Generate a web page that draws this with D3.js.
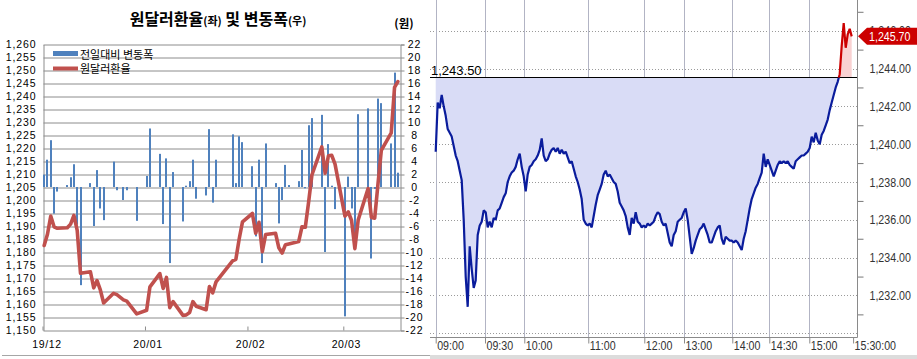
<!DOCTYPE html>
<html>
<head>
<meta charset="utf-8">
<script src="https://cdn.jsdelivr.net/npm/d3@7"></script>
<style>
body { margin: 0; background: #fff; }
svg { display: block; }
</style>
</head>
<body>
<svg id="chart" width="917" height="359"></svg>
<script>
// ---- left panel: daily close and day-on-day change
const days = [
  "2019-12-02","2019-12-03","2019-12-04","2019-12-05","2019-12-06","2019-12-09","2019-12-10","2019-12-11","2019-12-12","2019-12-13",
  "2019-12-16","2019-12-17","2019-12-18","2019-12-19","2019-12-20","2019-12-23","2019-12-24","2019-12-26","2019-12-27","2019-12-30",
  "2020-01-02","2020-01-03","2020-01-06","2020-01-07","2020-01-08","2020-01-09","2020-01-10","2020-01-13","2020-01-14","2020-01-15",
  "2020-01-16","2020-01-17","2020-01-20","2020-01-21","2020-01-22","2020-01-23","2020-01-28","2020-01-29","2020-01-30","2020-01-31",
  "2020-02-03","2020-02-04","2020-02-05","2020-02-06","2020-02-07","2020-02-10","2020-02-11","2020-02-12","2020-02-13","2020-02-14",
  "2020-02-17","2020-02-18","2020-02-19","2020-02-20","2020-02-21","2020-02-24","2020-02-25","2020-02-26","2020-02-27","2020-02-28",
  "2020-03-02","2020-03-03","2020-03-04","2020-03-05","2020-03-06","2020-03-09","2020-03-10","2020-03-11","2020-03-12","2020-03-13",
  "2020-03-16","2020-03-17","2020-03-18"
];
const rate = [
  1182.7, 1187.0, 1194.0, 1189.9, 1189.3, 1189.5, 1190.9, 1194.3, 1188.5, 1172.0,
  1172.6, 1166.4, 1169.2, 1165.6, 1160.6, 1164.3, 1163.8, 1161.8, 1161.3, 1156.4,
  1157.8, 1166.8, 1171.9, 1166.2, 1170.4, 1158.8, 1161.1, 1155.8, 1156.0, 1156.9,
  1161.1, 1159.3, 1158.0, 1166.9, 1164.5, 1168.7, 1176.8, 1177.4, 1185.2, 1191.8,
  1195.0, 1187.4, 1191.6, 1180.3, 1186.9, 1187.4, 1181.8, 1179.8, 1183.0, 1183.3,
  1184.2, 1189.9, 1189.7, 1199.3, 1209.8, 1220.6, 1210.5, 1217.2, 1217.4, 1214.0,
  1194.0, 1195.6, 1192.3, 1181.5, 1192.5, 1204.6, 1193.5, 1193.2, 1206.5, 1219.3,
  1226.0, 1243.5, 1245.7
];
const change = [
  1.9, 4.2, 7.2, -4.1, -0.7, 0.3, 1.5, 3.5, -5.8, -15.1,
  0.6, -6.0, 2.6, -3.3, -5.1, 3.9, -0.5, -2.0, -0.5, -5.2,
  1.7, 9.0, 5.1, -5.7, 4.4, -11.7, 2.3, -5.3, 0.2, 0.9,
  4.2, -1.8, -1.3, 8.9, -2.4, 4.2, 8.1, 0.6, 7.8, 6.9,
  3.2, -7.6, 4.2, -11.7, 6.7, 0.6, -5.6, -2.0, 3.4, 0.3,
  0.9, 5.7, -0.2, 9.5, 10.6, 11.1, -10.0, 6.6, 0.2, -3.4,
  -19.9, 1.6, -3.3, -9.7, 11.2, 12.1, -11.0, -0.3, 13.6, 12.9,
  6.7, 17.6, 2.2
];
const monthTicks = ["2019-12-01", "2020-01-01", "2020-02-01", "2020-03-01"];
const monthLabels = ["19/12", "20/01", "20/02", "20/03"];

// ---- right panel: intraday ticks, one value per tick step
const intraday = [
  1239.6, 1242.2, 1241.9, 1242.6, 1242.0, 1241.5, 1240.8, 1240.6, 1240.4, 1239.9,
  1239.4, 1239.1, 1238.6, 1238.1, 1236.0, 1233.0, 1231.4, 1234.6, 1233.4, 1232.4,
  1232.8, 1235.2, 1235.7, 1235.9, 1236.5, 1236.4, 1235.6, 1235.9, 1235.6, 1236.1,
  1236.0, 1236.5, 1236.6, 1236.9, 1237.2, 1237.4, 1238.0, 1238.3, 1238.5, 1238.6,
  1238.8, 1239.2, 1239.5, 1238.8, 1238.3, 1237.5, 1238.4, 1238.8, 1238.9, 1239.1,
  1239.2, 1239.4, 1239.7, 1240.3, 1239.4, 1239.1, 1239.2, 1239.5, 1239.7, 1239.8,
  1239.6, 1239.8, 1239.5, 1239.7, 1239.5, 1239.6, 1239.3, 1239.0, 1239.1, 1238.7,
  1238.3, 1238.0, 1237.6, 1237.1, 1236.0, 1235.8, 1235.7, 1235.8, 1235.6, 1236.2,
  1236.8, 1237.3, 1237.6, 1237.9, 1238.4, 1238.6, 1238.3, 1238.4, 1238.2, 1238.0,
  1237.9, 1237.5, 1236.9, 1236.7, 1236.5, 1236.2, 1235.6, 1235.2, 1236.1, 1235.8,
  1236.4, 1235.9, 1235.8, 1235.6, 1235.7, 1235.6, 1235.8, 1235.7, 1235.8, 1235.9,
  1236.2, 1236.4, 1236.3, 1235.9, 1235.7, 1235.8, 1235.3, 1234.8, 1234.6, 1235.2,
  1235.4, 1235.9, 1236.0, 1236.1, 1236.4, 1236.6, 1236.0, 1235.1, 1234.2, 1234.5,
  1234.9, 1235.2, 1235.5, 1235.6, 1235.8, 1235.5, 1235.2, 1234.8, 1234.8, 1235.1,
  1235.4, 1235.6, 1235.7, 1235.0, 1234.7, 1235.1, 1235.0, 1234.9, 1234.9, 1234.8,
  1234.9, 1234.8, 1234.6, 1234.4, 1235.0, 1235.4, 1236.0, 1236.6, 1237.1, 1237.4,
  1237.7, 1237.9, 1238.2, 1238.5, 1239.5, 1238.8, 1239.2, 1238.9, 1238.6, 1238.3,
  1238.6, 1238.9, 1239.1, 1239.0, 1239.1, 1239.0, 1239.1, 1238.9, 1238.8, 1238.7,
  1239.1, 1239.2, 1239.3, 1239.4, 1239.4, 1239.5, 1239.6, 1239.8, 1240.4, 1240.1,
  1240.6, 1240.2, 1240.0, 1240.5, 1240.7, 1241.0, 1241.3, 1241.8, 1242.2, 1242.6,
  1243.0, 1243.3, 1243.7, 1245.2, 1246.4, 1245.1, 1245.8, 1246.1, 1245.7
];
const timeLabels = ["09:00", "09:30", "10:00", "11:00", "12:00", "13:00", "14:00", "14:30", "15:00", "15:30:00"];
const timeSteps = [0, 24.65, 44.3, 76.3, 104.3, 124.15, 148.3, 166.8, 186.8, 208.7];
const prevClose = 1243.5;
const lastPrice = 1245.7;

const KR = "'Noto Sans CJK KR', 'Noto Sans', sans-serif";
const NUM = "'Liberation Sans', Arial, sans-serif";
const GRID = "#8c8c8c";
const SQ = 0.82; // horizontal squeeze for the trading-screen digits

const svg = d3.select("#chart");
const parse = d3.timeParse("%Y-%m-%d");

function drawLeft() {
  const P = { x0: 43.5, x1: 400.5, y0: 44.5, y1: 330.5 };
  const x = d3.scaleTime()
    .domain([new Date(2019, 11, 1, 12), new Date(2020, 2, 18, 12)])
    .range([42.5, 399.5]);
  const yL = d3.scaleLinear().domain([1150, 1260]).range([P.y1, P.y0]);
  const yR = d3.scaleLinear().domain([-22, 22]).range([P.y1, P.y0]);
  const g = svg.append("g").attr("font-family", KR);

  // horizontal grid
  g.append("g").attr("transform", `translate(${P.x0},0)`)
    .call(d3.axisLeft(yL).tickValues(d3.range(1150, 1261, 5)).tickSize(-(P.x1 - P.x0)).tickFormat(""))
    .call(s => s.select(".domain").remove())
    .selectAll("line").attr("stroke", GRID);

  // left axis
  g.append("g").attr("transform", `translate(${P.x0},0)`)
    .call(d3.axisLeft(yL).tickValues(d3.range(1150, 1261, 5)).tickSize(0).tickPadding(7).tickFormat(d3.format(",")))
    .attr("font-family", NUM).attr("font-size", 10.5).attr("letter-spacing", 0.9)
    .call(s => s.select(".domain").attr("stroke", GRID))
    .selectAll("text").attr("fill", "#000");

  // right axis
  g.append("g").attr("transform", `translate(${P.x1},0)`)
    .call(d3.axisRight(yR).tickValues(d3.range(-22, 23, 2)).tickSize(4).tickFormat(d => String(d)))
    .attr("font-family", NUM).attr("font-size", 10.5).attr("letter-spacing", 0.9)
    .call(s => s.select(".domain").attr("stroke", GRID))
    .call(s => s.selectAll("line").attr("stroke", GRID))
    .selectAll("text").attr("fill", "#000").attr("text-anchor", "middle").attr("x", 14);

  // bottom axis
  const bx = g.append("g").attr("transform", `translate(0,${P.y1})`)
    .call(d3.axisBottom(x).tickValues(monthTicks.map(d => d3.timeHour.offset(parse(d), 12)))
      .tickSize(-4).tickPadding(10).tickFormat((d, i) => monthLabels[i]))
    .attr("font-family", NUM).attr("font-size", 10.5).attr("letter-spacing", 0.6);
  bx.select(".domain").remove();
  bx.selectAll("line").attr("stroke", GRID);
  bx.selectAll("text").attr("fill", "#000").attr("dx", (d, i) => i === 0 ? 4 : 2.5);

  // bars
  g.append("g").selectAll("rect").data(change).join("rect")
    .attr("x", (d, i) => Math.round(x(parse(days[i]))) - 1)
    .attr("width", 2)
    .attr("y", d => yR(Math.max(0, d)) - 0.5)
    .attr("height", d => Math.abs(yR(d) - yR(0)))
    .attr("fill", "#4f81bd");

  // rate line
  const line = d3.line().x((d, i) => x(parse(days[i]))).y(d => yL(d));
  g.append("path").attr("d", line(rate))
    .attr("fill", "none").attr("stroke", "#c0504d").attr("stroke-width", 3.6)
    .attr("stroke-linejoin", "round").attr("stroke-linecap", "round");

  // legend
  g.append("rect").attr("x", 53).attr("y", 51).attr("width", 25).attr("height", 5).attr("fill", "#4f81bd");
  g.append("line").attr("x1", 53).attr("x2", 78).attr("y1", 68.5).attr("y2", 68.5)
    .attr("stroke", "#c0504d").attr("stroke-width", 4);
  g.append("text").attr("x", 80).attr("y", 58.5).attr("font-size", 11).text("전일대비 변동폭");
  g.append("text").attr("x", 80).attr("y", 72.5).attr("font-size", 11).text("원달러환율");

  // title
  const t = g.append("text").attr("x", 218).attr("y", 25).attr("text-anchor", "middle")
    .attr("font-weight", "bold").attr("font-size", 16);
  t.append("tspan").text("원달러환율");
  t.append("tspan").attr("font-size", 11).text("(좌)");
  t.append("tspan").text(" 및 변동폭");
  t.append("tspan").attr("font-size", 11).text("(우)");
  g.append("text").attr("x", 404).attr("y", 28).attr("text-anchor", "middle")
    .attr("font-weight", "bold").attr("font-size", 11.5).text("(원)");

  g.append("line").attr("x1", 2).attr("x2", 430).attr("y1", 355.5).attr("y2", 355.5).attr("stroke", "#a6a6a6");
}

function drawRight() {
  const P = { x0: 430, x1: 857.5, y0: 0, y1: 337.5 };
  const x = d3.scaleLinear().domain([0, intraday.length - 1]).range([435.7, 851.7]);
  const y = d3.scaleLinear().domain([1230, 1246]).range([333.3, 30.7]);
  const g = svg.append("g");
  const yPrev = Math.round(y(prevClose)) - 0.5;

  // dotted horizontal grid
  g.append("g").selectAll("line").data(d3.range(1230, 1247, 2)).join("line")
    .attr("x1", P.x0).attr("x2", P.x1)
    .attr("y1", d => Math.round(y(d)) + 0.5).attr("y2", d => Math.round(y(d)) + 0.5)
    .attr("stroke", "#9a9a9a").attr("stroke-dasharray", "1,2");

  // vertical time grid
  g.append("g").selectAll("line").data(timeSteps.slice(0, -1)).join("line")
    .attr("x1", d => Math.round(x(d)) + 0.5).attr("x2", d => Math.round(x(d)) + 0.5)
    .attr("y1", P.y0).attr("y2", P.y1)
    .attr("stroke", "#b2b4c4");

  const defs = svg.append("defs");
  defs.append("clipPath").attr("id", "below").append("rect")
    .attr("x", P.x0).attr("y", yPrev).attr("width", P.x1 - P.x0).attr("height", P.y1 - yPrev);
  defs.append("clipPath").attr("id", "above").append("rect")
    .attr("x", P.x0).attr("y", 0).attr("width", P.x1 - P.x0).attr("height", yPrev);

  const area = d3.area().x((d, i) => x(i)).y0(yPrev).y1(d => y(d));
  const line = d3.line().x((d, i) => x(i)).y(d => y(d));

  g.append("path").attr("d", area(intraday)).attr("fill", "#d9dcf6").attr("clip-path", "url(#below)");
  g.append("path").attr("d", area(intraday)).attr("fill", "#f9d2d2").attr("clip-path", "url(#above)");

  // previous close
  g.append("line").attr("x1", P.x0).attr("x2", P.x1).attr("y1", yPrev).attr("y2", yPrev).attr("stroke", "#000");
  g.append("text").attr("x", 431).attr("y", 75).attr("font-family", NUM)
    .attr("font-size", 13).attr("fill", "#000").text(d3.format(",.2f")(prevClose));

  g.append("path").attr("d", line(intraday)).attr("fill", "none").attr("stroke", "#0a1c9c")
    .attr("stroke-width", 2.2).attr("stroke-linejoin", "bevel").attr("clip-path", "url(#below)");
  g.append("path").attr("d", line(intraday)).attr("fill", "none").attr("stroke", "#cc0000")
    .attr("stroke-width", 2.2).attr("stroke-linejoin", "bevel").attr("clip-path", "url(#above)");

  // right price axis
  const ay = g.append("g").attr("transform", `translate(${P.x1},0)`)
    .call(d3.axisRight(y).tickValues(d3.range(1232, 1247, 2)).tickSize(0).tickFormat(d3.format(",.2f")))
    .attr("font-family", NUM).attr("font-size", 13);
  ay.select(".domain").remove();
  ay.selectAll("text").attr("fill", "#333").attr("transform", `scale(${SQ},1)`).attr("x", 12 / SQ);
  g.append("g").attr("transform", `translate(${P.x1},0)`)
    .call(d3.axisRight(y).tickValues(d3.range(1231, 1248, 2)).tickSize(6).tickFormat(""))
    .call(s => s.select(".domain").remove())
    .selectAll("line").attr("stroke", "#777");
  g.append("line").attr("x1", P.x1).attr("x2", P.x1).attr("y1", 0).attr("y2", P.y1).attr("stroke", "#8a8a8a");

  // time axis
  const ax = g.append("g").attr("transform", `translate(0,${P.y1})`)
    .call(d3.axisBottom(x).tickValues(timeSteps).tickSize(6).tickFormat((d, i) => timeLabels[i]))
    .attr("font-family", NUM).attr("font-size", 13);
  ax.select(".domain").remove();
  ax.selectAll("line").attr("stroke", "#8a8a8a");
  ax.selectAll("text").attr("fill", "#333").attr("text-anchor", "start")
    .attr("transform", `scale(${SQ},1)`).attr("x", 1 / SQ).attr("y", 3);
  g.append("line").attr("x1", P.x0).attr("x2", P.x1).attr("y1", P.y1).attr("y2", P.y1).attr("stroke", "#8a8a8a");

  // last price tag
  const yl = y(lastPrice);
  g.append("path")
    .attr("d", `M858,${yl} L867,${yl - 8.5} L917,${yl - 8.5} L917,${yl + 8.5} L867,${yl + 8.5} Z`)
    .attr("fill", "#cc0000");
  g.append("text").attr("transform", `translate(869,${yl + 4.5}) scale(${SQ},1)`)
    .attr("font-family", NUM).attr("font-size", 13)
    .attr("fill", "#fff").text(d3.format(",.2f")(lastPrice));

  g.append("rect").attr("x", 430).attr("y", 355).attr("width", 487).attr("height", 4).attr("fill", "#dcdcdc");
}

drawLeft();
drawRight();
</script>
</body>
</html>
